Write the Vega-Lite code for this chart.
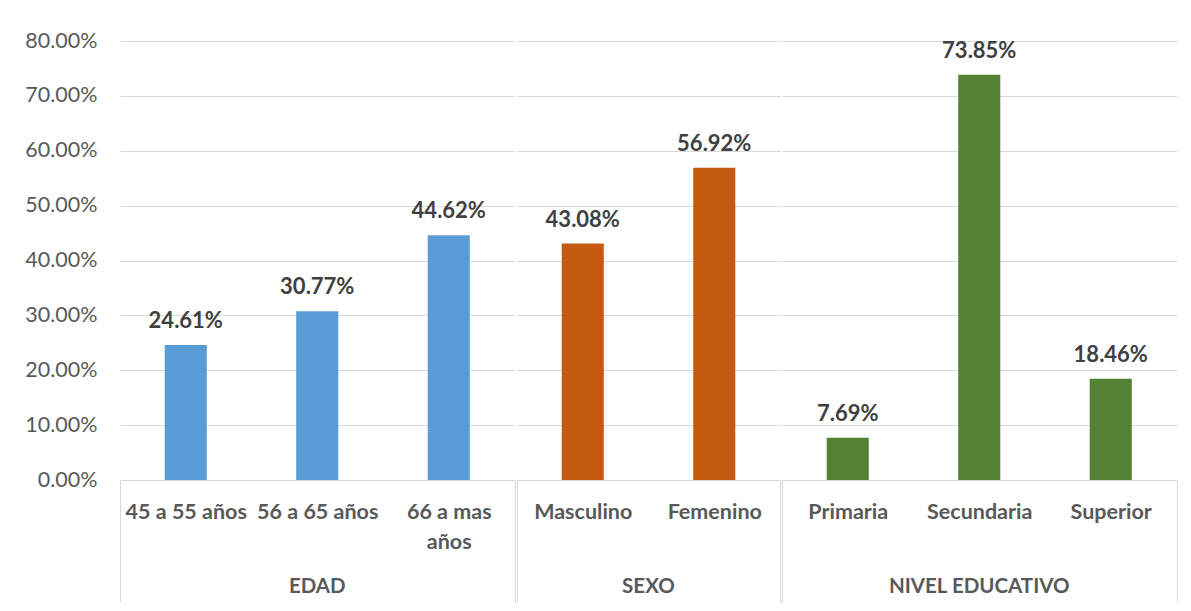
{
  "$schema": "https://vega.github.io/schema/vega-lite/v6.json",
  "padding": {"left": 24, "top": 30, "right": 0, "bottom": 0},
  "background": "white",
  "data": {
    "values": [
      {"grupo": "EDAD", "categoria": "45 a 55 años", "valor": 0.2461},
      {"grupo": "EDAD", "categoria": "56 a 65 años", "valor": 0.3077},
      {"grupo": "EDAD", "categoria": "66 a mas años", "valor": 0.4462},
      {"grupo": "SEXO", "categoria": "Masculino", "valor": 0.4308},
      {"grupo": "SEXO", "categoria": "Femenino", "valor": 0.5692},
      {"grupo": "NIVEL EDUCATIVO", "categoria": "Primaria", "valor": 0.0769},
      {"grupo": "NIVEL EDUCATIVO", "categoria": "Secundaria", "valor": 0.7385},
      {"grupo": "NIVEL EDUCATIVO", "categoria": "Superior", "valor": 0.1846}
    ]
  },
  "facet": {
    "column": {
      "field": "grupo",
      "type": "nominal",
      "sort": ["EDAD", "SEXO", "NIVEL EDUCATIVO"],
      "header": {
        "title": null,
        "labelOrient": "bottom",
        "labelFont": "Lato",
        "labelFontWeight": "bold",
        "labelFontSize": 20.5,
        "labelColor": "#595959",
        "labelPadding": -26
      }
    }
  },
  "spacing": 0,
  "resolve": {"scale": {"x": "independent"}},
  "spec": {
    "width": {"step": 131.5},
    "height": 439,
    "encoding": {
      "x": {
        "field": "categoria",
        "type": "nominal",
        "sort": null,
        "scale": {"paddingInner": 0, "paddingOuter": 0},
        "axis": {
          "title": null,
          "labelAngle": 0,
          "tickBand": "extent",
          "tickSize": 122,
          "tickColor": {
            "condition": {
              "test": "datum.extra || datum.value === '66 a mas años' || datum.value === 'Femenino' || datum.value === 'Superior'",
              "value": "#D9D9D9"
            },
            "value": "transparent"
          },
          "domainColor": "#D9D9D9",
          "labelPadding": -101,
          "labelExpr": "datum.value === '66 a mas años' ? ['66 a mas', 'años'] : datum.label",
          "labelLineHeight": 30,
          "labelBaseline": "top",
          "labelFont": "Lato",
          "labelFontWeight": "bold",
          "labelFontSize": 21.5,
          "labelColor": "#595959",
          "labelLimit": 300,
          "grid": false
        }
      },
      "y": {
        "field": "valor",
        "type": "quantitative",
        "scale": {"domain": [0, 0.8]},
        "axis": {
          "title": null,
          "values": [0, 0.1, 0.2, 0.3, 0.4, 0.5, 0.6, 0.7, 0.8],
          "format": ".2%",
          "domain": false,
          "ticks": false,
          "grid": true,
          "gridColor": "#D9D9D9",
          "labelPadding": 22,
          "labelFont": "Lato",
          "labelFontSize": 21.5,
          "labelColor": "#595959"
        }
      }
    },
    "layer": [
      {
        "mark": {"type": "bar", "width": {"band": 0.32}},
        "encoding": {
          "color": {
            "field": "grupo",
            "type": "nominal",
            "scale": {
              "domain": ["EDAD", "SEXO", "NIVEL EDUCATIVO"],
              "range": ["#5B9BD5", "#C55A11", "#548235"]
            },
            "legend": null
          }
        }
      },
      {
        "mark": {
          "type": "text",
          "dy": -24,
          "baseline": "middle",
          "font": "Lato",
          "fontWeight": "bold",
          "fontSize": 22,
          "color": "#404040"
        },
        "encoding": {
          "text": {"field": "valor", "type": "quantitative", "format": ".2%"}
        }
      }
    ]
  },
  "config": {"view": {"stroke": null}}
}
